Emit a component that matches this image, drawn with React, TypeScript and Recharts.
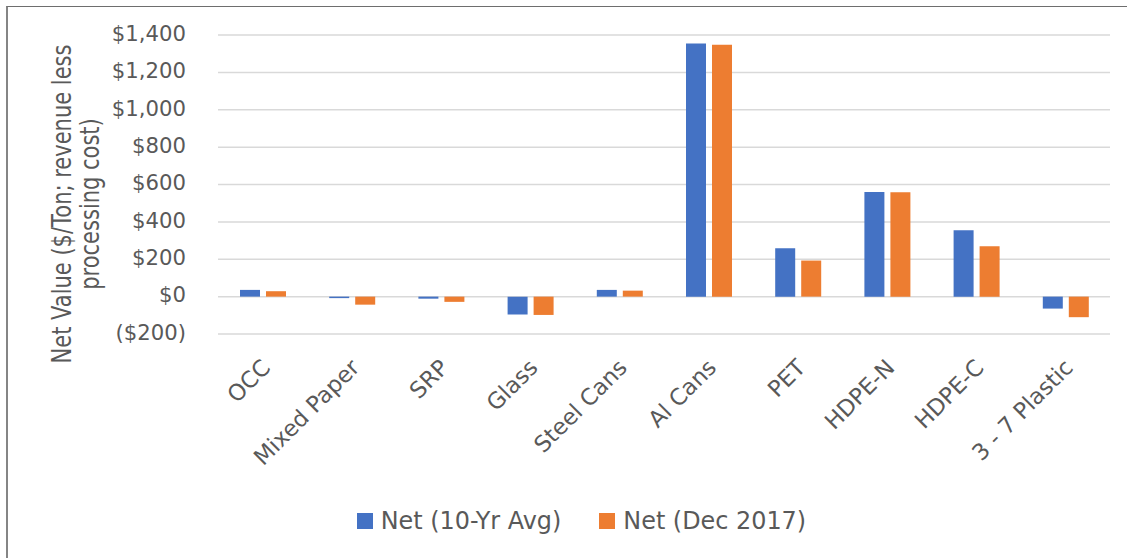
import React from 'react';
import { BarChart, Bar, XAxis, YAxis, CartesianGrid, Legend } from 'recharts';

const categories = ['OCC', 'Mixed Paper', 'SRP', 'Glass', 'Steel Cans', 'Al Cans', 'PET', 'HDPE-N', 'HDPE-C', '3 - 7 Plastic'];
const net10YrAvg = [36, -8, -11, -96, 36, 1355, 259, 560, 355, -64];
const netDec2017 = [29, -43, -28, -98, 32, 1348, 193, 558, 270, -110];
const yTicks = [-200, 0, 200, 400, 600, 800, 1000, 1200, 1400];
const seriesNames = ['Net (10-Yr Avg)', 'Net (Dec 2017)'];
const seriesColors = ['#4472C4', '#ED7D31'];
const yTitleLines = ['Net Value ($/Ton; revenue less', 'processing cost)'];

const data = categories.map((c, i) => ({ name: c, avg: net10YrAvg[i], dec: netDec2017[i] }));

const FONT = '"DejaVu Sans", sans-serif';
const TEXT = '#595959';

const fmt = (v: number) => {
  const s = '$' + Math.abs(v).toLocaleString('en-US');
  return v < 0 ? '(' + s + ')' : s;
};

const YTick = (props: any) => {
  const { x, y, payload } = props;
  return (
    <text x={x} y={y + 5.8} textAnchor="end" fill={TEXT} fontSize={21.2} fontFamily={FONT}>
      {fmt(payload.value)}
    </text>
  );
};

const XTick = (props: any) => {
  const { x, y, payload } = props;
  return (
    <g transform={`translate(${x + 9},${y + 35})`}>
      <text x={0} y={0} transform="rotate(-45)" textAnchor="end" fill={TEXT} fontSize={22.6} fontFamily={FONT}>
        {payload.value}
      </text>
    </g>
  );
};

const YTitle = () => (
  <g transform="translate(70.7,204) scale(1.3,1) rotate(-90)">
    <text x={0} y={0} textAnchor="middle" fill={TEXT} fontSize={21} fontFamily={FONT}>
      <tspan x={0} dy={0}>{yTitleLines[0]}</tspan>
      <tspan x={0} dy={22}>{yTitleLines[1]}</tspan>
    </text>
  </g>
);

const LegendContent = () => (
  <div style={{ display: 'flex', alignItems: 'center', fontFamily: FONT, fontSize: 23.9, lineHeight: '22px', color: TEXT, whiteSpace: 'nowrap' }}>
    {seriesNames.map((n, i) => (
      <div key={n} style={{ display: 'flex', alignItems: 'center', marginLeft: i === 0 ? 0 : 38 }}>
        <span style={{ display: 'inline-block', width: 16, height: 16, background: seriesColors[i], marginRight: 8 }} />
        <span>{n}</span>
      </div>
    ))}
  </div>
);

export default function App() {
  return (
    <div style={{ position: 'absolute', left: 0, top: 0, width: 1127, height: 558, background: '#fff', overflow: 'hidden' }}>
      <div style={{ position: 'absolute', left: 6, top: 6, width: 1127, height: 558, borderLeft: '2px solid #858585', borderTop: '1px solid #6e6e6e' }} />
      <div style={{ position: 'absolute', left: 0, top: 0 }}>
        <BarChart
          width={1127}
          height={558}
          data={data}
          margin={{ top: 35, right: 17, left: 0, bottom: 164 }}
          barSize={20}
          barGap={6}
        >
          <CartesianGrid vertical={false} stroke="#d9d9d9" strokeWidth={1.5} />
          <XAxis
            dataKey="name"
            axisLine={false}
            tickLine={false}
            tickSize={0}
            tickMargin={0}
            height={60}
            interval={0}
            tick={<XTick />}
          />
          <YAxis
            domain={[-200, 1400]}
            ticks={yTicks}
            axisLine={false}
            tickLine={false}
            tickSize={0}
            tickMargin={32}
            width={218}
            interval={0}
            tick={<YTick />}
            label={<YTitle />}
          />
          <Legend
            layout="horizontal"
            verticalAlign="middle"
            align="center"
            content={<LegendContent />}
            wrapperStyle={{ top: 510, left: 356.7, width: 'auto', height: 22 }}
          />
          <Bar dataKey="avg" name={seriesNames[0]} fill={seriesColors[0]} isAnimationActive={false} />
          <Bar dataKey="dec" name={seriesNames[1]} fill={seriesColors[1]} isAnimationActive={false} />
        </BarChart>
      </div>
    </div>
  );
}
